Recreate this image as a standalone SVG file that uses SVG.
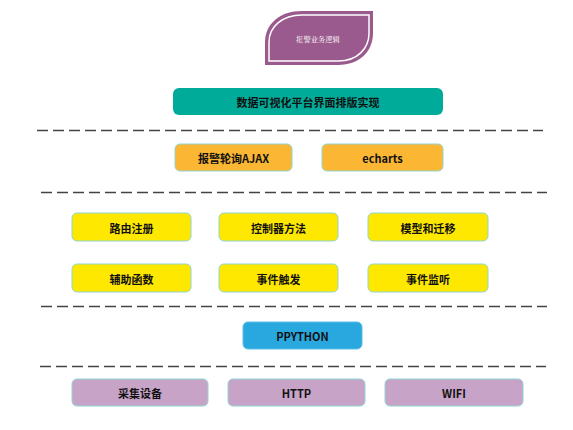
<svg xmlns="http://www.w3.org/2000/svg" width="573" height="430" viewBox="0 0 573 430">
<style>
.t{font-family:"Noto Sans CJK SC","Noto Sans",sans-serif;font-size:11px;font-weight:bold;fill:#111;text-anchor:middle;dominant-baseline:central}
.box{stroke:#8fd6d2;stroke-width:1}
.dash{stroke:#444;stroke-width:1.6;stroke-dasharray:11 5;fill:none}
</style>
<rect width="573" height="430" fill="#fff"/>
<g id="title">
<path d="M265,65 L265,42 C265,24 280,11 302,11 L373,11 L373,33 C373,51 360,65 338,65 Z" fill="#9b5a8e"/>
<path d="M269,61 L269,42 C269,27 282,15 302,15 L369,15 L369,33 C369,48 358,61 338,61 Z" fill="none" stroke="#fff" stroke-width="1.5"/>
<text x="318" y="39" style="font-family:'Noto Serif CJK SC','Noto Sans CJK SC',serif;font-size:7.3px;fill:#fff;text-anchor:middle;dominant-baseline:central">报警业务逻辑</text>
</g>
<g id="platform"><rect x="173" y="88" width="270" height="27" rx="6" fill="#00ab9a"/><text class="t" x="308" y="102">数据可视化平台界面排版实现</text></g>
<g id="connectors">
<line class="dash" x1="37" y1="130.5" x2="543" y2="130.5"/>
<line class="dash" x1="41" y1="192.5" x2="547" y2="192.5"/>
<line class="dash" x1="41" y1="306.5" x2="547" y2="306.5"/>
<line class="dash" x1="40" y1="366.5" x2="546" y2="366.5"/>
</g>
<g id="ajax"><rect class="box" x="175" y="144" width="117" height="27" rx="5" fill="#fbb733"/><text class="t" x="233.5" y="158">报警轮询AJAX</text></g>
<g id="echarts"><rect class="box" x="322" y="144" width="121" height="27" rx="5" fill="#fbb733"/><text class="t" x="382.5" y="158">echarts</text></g>
<g id="route"><rect class="box" x="72" y="213" width="119" height="28" rx="5" fill="#ffe800"/><text class="t" x="131.5" y="227.5">路由注册</text></g>
<g id="controller"><rect class="box" x="219" y="213" width="119" height="28" rx="5" fill="#ffe800"/><text class="t" x="278.5" y="227.5">控制器方法</text></g>
<g id="model"><rect class="box" x="368" y="213" width="120" height="28" rx="5" fill="#ffe800"/><text class="t" x="428" y="227.5">模型和迁移</text></g>
<g id="helper"><rect class="box" x="72" y="264" width="119" height="28" rx="5" fill="#ffe800"/><text class="t" x="131.5" y="278.5">辅助函数</text></g>
<g id="trigger"><rect class="box" x="219" y="264" width="119" height="28" rx="5" fill="#ffe800"/><text class="t" x="278.5" y="278.5">事件触发</text></g>
<g id="listen"><rect class="box" x="368" y="264" width="120" height="28" rx="5" fill="#ffe800"/><text class="t" x="428" y="278.5">事件监听</text></g>
<g id="python"><rect x="243" y="322" width="119" height="27" rx="5" fill="#29a8e0" stroke="#5bbde6"/><text class="t" x="302.5" y="336">PPYTHON</text></g>
<g id="collect"><rect class="box" x="72" y="379" width="136" height="27" rx="5" fill="#c8a3c8" stroke="#3fb5aa"/><text class="t" x="140" y="393">采集设备</text></g>
<g id="http"><rect class="box" x="228" y="379" width="137" height="27" rx="5" fill="#c8a3c8"/><text class="t" x="296.5" y="393">HTTP</text></g>
<g id="wifi"><rect class="box" x="385" y="379" width="138" height="27" rx="5" fill="#c8a3c8"/><text class="t" x="454" y="393">WIFI</text></g>
</svg>
